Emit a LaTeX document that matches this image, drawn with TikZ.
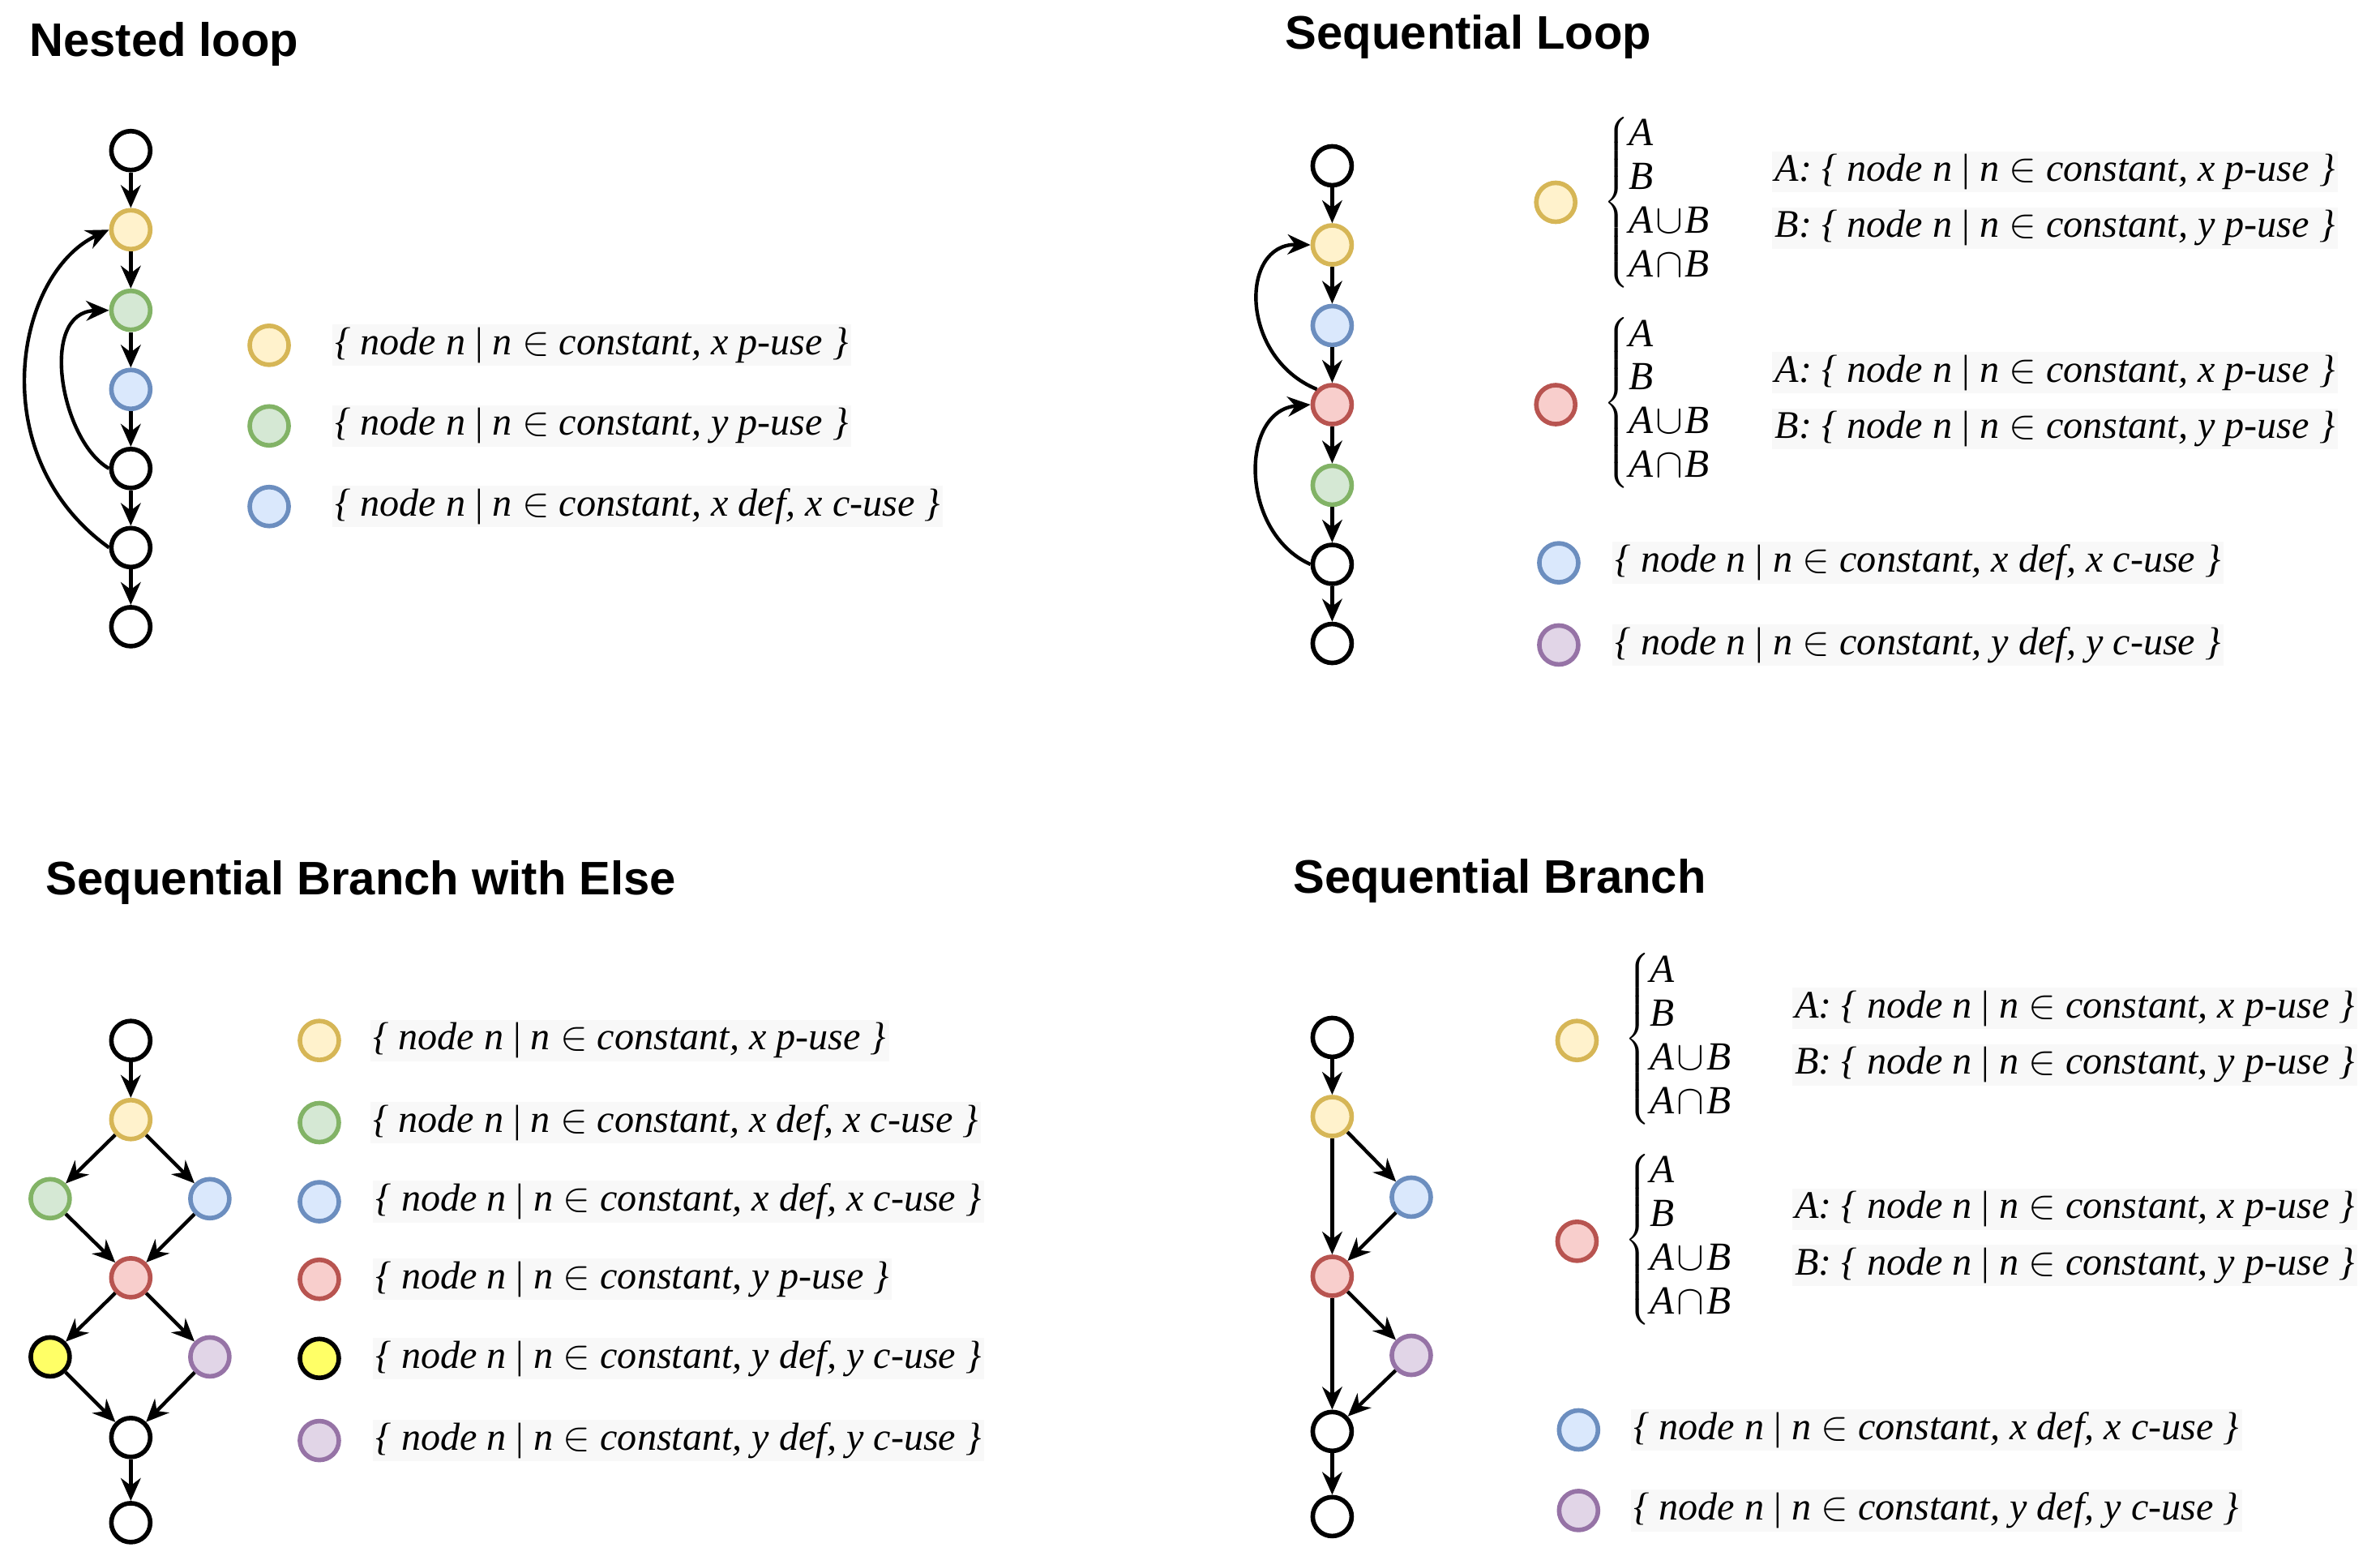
\documentclass[tikz,border=0pt]{standalone}
\usepackage{fontspec}
\setmainfont{Liberation Serif}
\newfontfamily\titlefont{Liberation Sans}
\usetikzlibrary{arrows.meta}
\definecolor{yF}{HTML}{FFF2CC}\definecolor{yD}{HTML}{D6B656}
\definecolor{gF}{HTML}{D5E8D4}\definecolor{gD}{HTML}{82B366}
\definecolor{bF}{HTML}{DAE8FC}\definecolor{bD}{HTML}{6C8EBF}
\definecolor{rF}{HTML}{F8CECC}\definecolor{rD}{HTML}{B85450}
\definecolor{pF}{HTML}{E1D5E7}\definecolor{pD}{HTML}{9673A6}
\definecolor{YF}{HTML}{FFFF66}
\definecolor{lbg}{HTML}{F8F8F8}
\newcommand{\setlbl}[1]{\textit{\{ node n {\upshape|} n} $\in$ \textit{constant, #1 \}}}
\newcommand{\casesAB}{$\left\{\renewcommand{\arraystretch}{0.93}\begin{array}{@{}l@{}}\textit{A}\\ \textit{B}\\ \textit{A}\!\cup\!\textit{B}\\ \textit{A}\!\cap\!\textit{B}\end{array}\right.$}
\begin{document}
\begin{tikzpicture}[x=0.01876cm,y=-0.01876cm,
  v/.style={circle,draw=black,fill=white,line width=1.6pt,minimum size=0.48cm,inner sep=0pt},
  yel/.style={v,draw=yD,fill=yF}, grn/.style={v,draw=gD,fill=gF},
  blu/.style={v,draw=bD,fill=bF}, red/.style={v,draw=rD,fill=rF},
  pur/.style={v,draw=pD,fill=pF}, yy/.style={v,draw=black,fill=YF},
  arr/.style={-{Stealth[length=8pt,width=7pt]},line width=1.25pt},
  ttl/.style={anchor=west,font=\titlefont\fontsize{16.5}{18}\selectfont\bfseries,inner sep=0pt},
  lbl/.style={anchor=west,font=\fontsize{13.7}{16}\selectfont,inner sep=1pt,fill=lbg},
  cs/.style={anchor=west,font=\fontsize{14}{16.5}\selectfont,inner sep=0pt}]
\useasboundingbox (0,0) rectangle (1565,1022.4);
% ---------- Nested loop
\node[ttl] (t1) at (19,29) {Nested loop};
\node[v] (a1) at (86,99) {}; \node[yel] (a2) at (86,151) {};
\node[grn] (a3) at (86,204) {}; \node[blu] (a4) at (86,256) {};
\node[v] (a5) at (86,308) {}; \node[v] (a6) at (86,360) {};
\node[v] (a7) at (86,412) {};
\foreach \i/\j in {a1/a2,a2/a3,a3/a4,a4/a5,a5/a6,a6/a7} \draw[arr] (\i) -- (\j);
\draw[arr] (a5.west) .. controls (40,290) and (25,205) .. (a3.west);
\draw[arr] (a6.west) .. controls (-12,300) and (10,180) .. (a2.west);
\node[yel] (la1) at (177,227) {}; \node[lbl] (lt1) at (218,227) {\setlbl{x p-use}};
\node[grn] (la2) at (177,280) {}; \node[lbl] (lt2) at (218,280) {\setlbl{y p-use}};
\node[blu] (la3) at (177,333) {}; \node[lbl] (lt3) at (218,333) {\setlbl{x def, x c-use}};
% ---------- Sequential Loop
\node[ttl] (t2) at (845,24) {Sequential Loop};
\node[v] (b1) at (876,109) {}; \node[yel] (b2) at (876,161) {};
\node[blu] (b3) at (876,214) {}; \node[red] (b4) at (876,266) {};
\node[grn] (b5) at (876,319) {}; \node[v] (b6) at (876,371) {};
\node[v] (b7) at (876,423) {};
\foreach \i/\j in {b1/b2,b2/b3,b3/b4,b4/b5,b5/b6,b6/b7} \draw[arr] (\i) -- (\j);
\draw[arr] (b4.north west) .. controls (815,235) and (815,160) .. (b2.west);
\draw[arr] (b6.west) .. controls (815,350) and (815,270) .. (b4.west);
\node[yel] (lb1) at (1023,133) {}; \node[cs] (cb1) at (1054,133) {\casesAB};
\node[lbl] (lb1a) at (1165,113) {\textit{A:} \setlbl{x p-use}};
\node[lbl] (lb1b) at (1165,150) {\textit{B:} \setlbl{y p-use}};
\node[red] (lb2) at (1023,266) {}; \node[cs] (cb2) at (1054,265) {\casesAB};
\node[lbl] (lb2a) at (1165,245) {\textit{A:} \setlbl{x p-use}};
\node[lbl] (lb2b) at (1165,282) {\textit{B:} \setlbl{y p-use}};
\node[blu] (lb3) at (1025,370) {}; \node[lbl] (lb3t) at (1060,370) {\setlbl{x def, x c-use}};
\node[pur] (lb4) at (1025,424) {}; \node[lbl] (lb4t) at (1060,424) {\setlbl{y def, y c-use}};
% ---------- Sequential Branch with Else
\node[ttl] (t3) at (30,580) {Sequential Branch with Else};
\node[v] (c1) at (86,684) {}; \node[yel] (c2) at (86,736) {};
\node[grn] (c3) at (33,788) {}; \node[blu] (c4) at (138,788) {};
\node[red] (c5) at (86,840) {};
\node[yy] (c6) at (33,892) {}; \node[pur] (c7) at (138,892) {};
\node[v] (c8) at (86,945) {}; \node[v] (c9) at (86,1001) {};
\foreach \i/\j in {c1/c2,c2/c3,c2/c4,c3/c5,c4/c5,c5/c6,c5/c7,c6/c8,c7/c8,c8/c9} \draw[arr] (\i) -- (\j);
\node[yel] (lc1) at (210,684) {}; \node[lbl] (lc1t) at (243,684) {\setlbl{x p-use}};
\node[grn] (lc2) at (210,738) {}; \node[lbl] (lc2t) at (243,738) {\setlbl{x def, x c-use}};
\node[blu] (lc3) at (210,790) {}; \node[lbl] (lc3t) at (245,790) {\setlbl{x def, x c-use}};
\node[red] (lc4) at (210,841) {}; \node[lbl] (lc4t) at (245,841) {\setlbl{y p-use}};
\node[yy] (lc5) at (210,893) {}; \node[lbl] (lc5t) at (245,893) {\setlbl{y def, y c-use}};
\node[pur] (lc6) at (210,947) {}; \node[lbl] (lc6t) at (245,947) {\setlbl{y def, y c-use}};
% ---------- Sequential Branch
\node[ttl] (t4) at (850,579) {Sequential Branch};
\node[v] (d1) at (876,682) {}; \node[yel] (d2) at (876,734) {};
\node[blu] (d3) at (928,787) {}; \node[red] (d4) at (876,839) {};
\node[pur] (d5) at (928,891) {}; \node[v] (d6) at (876,941) {};
\node[v] (d7) at (876,997) {};
\foreach \i/\j in {d1/d2,d2/d3,d2/d4,d3/d4,d4/d5,d4/d6,d5/d6,d6/d7} \draw[arr] (\i) -- (\j);
\node[yel] (ld1) at (1037,684) {}; \node[cs] (cd1) at (1068,683) {\casesAB};
\node[lbl] (ld1a) at (1178,663) {\textit{A:} \setlbl{x p-use}};
\node[lbl] (ld1b) at (1178,700) {\textit{B:} \setlbl{y p-use}};
\node[red] (ld2) at (1037,816) {}; \node[cs] (cd2) at (1068,815) {\casesAB};
\node[lbl] (ld2a) at (1178,795) {\textit{A:} \setlbl{x p-use}};
\node[lbl] (ld2b) at (1178,832) {\textit{B:} \setlbl{y p-use}};
\node[blu] (ld3) at (1038,940) {}; \node[lbl] (ld3t) at (1072,940) {\setlbl{x def, x c-use}};
\node[pur] (ld4) at (1038,993) {}; \node[lbl] (ld4t) at (1072,993) {\setlbl{y def, y c-use}};
\end{tikzpicture}
\end{document}
